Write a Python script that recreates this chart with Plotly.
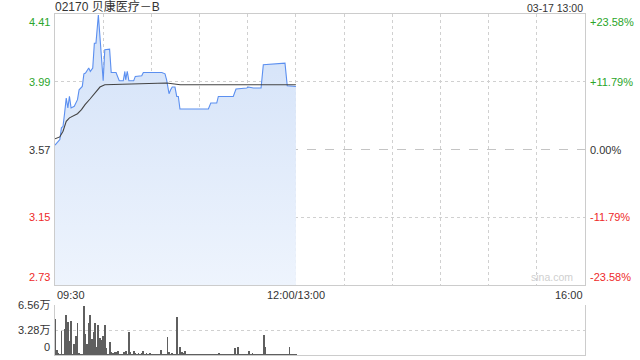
import plotly.graph_objects as go

# ---------------- data ----------------
title_text = "02170 贝康医疗－B"
stamp_text = "03-17 13:00"
prev_close = 3.57
price_ticks = [4.41, 3.99, 3.57, 3.15, 2.73]
pct_ticks = ["+23.58%", "+11.79%", "0.00%", "-11.79%", "-23.58%"]
time_labels = ["09:30", "12:00/13:00", "16:00"]
time_label_pos = [0, 150, 330]          # trading minutes since 09:30 (lunch removed)
vol_ticks = [6.56, 3.28, 0]
vol_tick_labels = ["6.56万", "3.28万", "0"]

price_min = [0, 3, 4, 5, 6, 7, 8, 9, 10, 12, 14, 15, 17, 18, 19, 21, 22, 23.5, 24.5,
             25.5, 27, 28, 29, 30, 31, 34, 35, 38, 40, 42.5, 43.5, 44, 45, 46, 49, 50,
             54, 55, 66.5, 68.5, 69.5, 71, 72, 73, 74.7, 75.8, 76.8, 77.8, 95.5, 97,
             100.7, 101.7, 111, 112.7, 119.4, 120.4, 123.5, 128.3, 129.7, 143.2, 144.6, 150]
price_val = [3.597, 3.632, 3.704, 3.714, 3.798, 3.889, 3.828, 3.899, 3.828, 3.838, 3.879,
             3.940, 3.961, 4.039, 4.044, 4.075, 4.054, 4.075, 4.229, 4.229, 4.404, 4.249,
             4.157, 3.996, 4.188, 4.192, 4.047, 4.047, 3.996, 3.996, 4.054, 4.002, 4.054,
             3.996, 3.996, 4.023, 4.027, 4.047, 4.047, 4.039, 4.002, 3.916, 3.940, 3.957,
             3.957, 3.899, 3.899, 3.821, 3.821, 3.858, 3.858, 3.899, 3.899, 3.945, 3.951,
             3.957, 3.951, 3.951, 4.095, 4.105, 3.965, 3.961]

avg_min = [0, 3, 5, 7, 9, 14, 16.5, 18.7, 21.8, 24.9, 28, 31, 49, 69.5, 78, 150]
avg_val = [3.636, 3.648, 3.683, 3.745, 3.766, 3.792, 3.817, 3.848, 3.883, 3.920, 3.957,
           3.971, 3.978, 3.982, 3.971, 3.971]

# volume per minute, unit 万
volume = [4.72, 0.66, 0.22, 0.10, 3.10, 0.10, 3.41, 5.29, 4.29, 1.79,
          4.50, 0.10, 1.44, 2.54, 4.15, 0.15, 0.10, 0.10, 6.47, 2.76,
          1.44, 4.15, 5.29, 2.10, 2.97, 4.15, 1.00, 3.98, 2.23, 1.97,
          2.54, 3.98, 0.87, 0.13, 1.66, 0.35, 0.22, 0.35, 0.35, 0.48,
          0.05, 0.05, 0.05, 0.35, 0.48, 0.10, 2.97, 0.35, 0.13, 0.48,
          0.22, 0.13, 0.22, 0.10, 0.22, 0.48, 0.05, 0.22, 0.13, 0.22,
          0.05, 0.05, 0.05, 0.13, 0.05, 0.13, 0.66, 0.13, 0.13, 0.13,
          2.40, 0.35, 0.13, 0.22, 0.13, 0.05, 4.94, 0.10, 1.09, 0.35,
          0.22, 0.57, 0.05, 0.05, 0.05, 0.05, 0.05, 0.05, 0.05, 0.05,
          0.05, 0.05, 0.05, 0.05, 0.05, 0.05, 0.05, 0.05, 0.05, 0.05,
          0.05, 0.05, 0.22, 0.05, 0.05, 0.05, 0.05, 0.05, 0.05, 0.05,
          0.05, 0.05, 0.87, 0.05, 1.00, 0.05, 0.05, 0.05, 0.05, 0.05,
          0.10, 0.48, 0.10, 0.22, 0.05, 0.05, 0.05, 0.05, 0.05, 0.05,
          2.67, 1.09, 0.05, 0.05, 0.05, 0.05, 0.05, 0.05, 0.05, 0.05,
          0.05, 0.05, 0.05, 0.05, 0.05, 0.05, 1.00, 0.05, 0.05, 0.05,
          0.05]
vol_min = list(range(len(volume)))

# ---------------- figure ----------------
FONT = "Liberation Sans, Arial, Noto Sans CJK SC, sans-serif"
GREEN = "#2aa52a"
RED = "#ee2a2a"
DARK = "#333333"
GRID = "#d0d0d0"
BORDER = "#cccccc"

fig = go.Figure()

fig.add_trace(go.Scatter(
    x=price_min, y=price_val, mode="lines",
    line=dict(color="#5b8ff0", width=1.1),
    fill="tozeroy",
    fillgradient=dict(type="vertical", start=2.73, stop=4.41,
                      colorscale=[[0, "rgba(238,244,253,1)"], [1, "rgba(210,225,248,1)"]]),
    xaxis="x", yaxis="y", hoverinfo="skip", showlegend=False))

fig.add_trace(go.Scatter(
    x=avg_min, y=avg_val, mode="lines",
    line=dict(color="#444444", width=1.1),
    xaxis="x", yaxis="y", hoverinfo="skip", showlegend=False))

fig.add_trace(go.Bar(
    x=vol_min, y=volume, width=0.5,
    marker=dict(color="#5f5f5f", line=dict(width=0)),
    xaxis="x2", yaxis="y2", hoverinfo="skip", showlegend=False))

# previous-close dashed line
fig.add_shape(type="line", xref="x", yref="y", x0=0, x1=330, y0=prev_close, y1=prev_close,
              line=dict(color="#c4c4c4", width=1, dash="dash"), layer="below")

main_dom = [(355 - 285) / 341, 1.0]
vol_dom = [0.0, (355 - 305) / 341]

fig.update_layout(
    width=640, height=360,
    margin=dict(l=55, r=55, t=14, b=5),
    paper_bgcolor="white", plot_bgcolor="white",
    font=dict(family=FONT, size=11, color=DARK),
    bargap=0,
    xaxis=dict(domain=[0, 1], range=[0, 330], tickvals=[30 * i for i in range(1, 11)],
               showticklabels=False, ticks="", showgrid=True, gridcolor=GRID,
               griddash="dot", gridwidth=1, zeroline=False,
               showline=True, linecolor=BORDER, linewidth=1, mirror=True,
               anchor="y"),
    yaxis=dict(domain=main_dom, range=[2.73, 4.41], tickvals=[3.15, 3.99],
               showticklabels=False, ticks="", showgrid=True, gridcolor=GRID,
               griddash="dot", gridwidth=1, zeroline=False,
               showline=True, linecolor=BORDER, linewidth=1, mirror=True),
    xaxis2=dict(domain=[0, 1], range=[0, 330], showticklabels=False, ticks="",
                showgrid=False, zeroline=False, showline=True, linecolor=BORDER,
                linewidth=1, mirror=False, anchor="y2"),
    yaxis2=dict(domain=vol_dom, range=[0, 6.56], tickvals=[3.28, 6.56],
                showticklabels=False, ticks="", showgrid=True, gridcolor=GRID,
                griddash="dot", gridwidth=1, zeroline=False,
                showline=True, linecolor=BORDER, linewidth=1, mirror=True,
                anchor="x2"),
)

ann = []
# title and stamp
ann.append(dict(text=title_text, xref="paper", yref="paper", x=0, y=1.0,
                xanchor="left", yanchor="bottom", showarrow=False,
                font=dict(size=12, color=DARK), xshift=-2, yshift=-2))
ann.append(dict(text=stamp_text, xref="paper", yref="paper", x=1, y=1.0,
                xanchor="right", yanchor="bottom", showarrow=False,
                font=dict(size=10.5, color=DARK), yshift=-2))

# price / percent labels
price_colors = [GREEN, GREEN, DARK, RED, RED]
for i, (p, pct, c) in enumerate(zip(price_ticks, pct_ticks, price_colors)):
    if i == 0:
        ya = "top"
    elif i == len(price_ticks) - 1:
        ya = "bottom"
    else:
        ya = "middle"
    ann.append(dict(text=f"{p:.2f}", xref="paper", yref="y", x=0, y=p,
                    xanchor="right", yanchor=ya, showarrow=False,
                    font=dict(size=11, color=c), xshift=-3))
    ann.append(dict(text=pct, xref="paper", yref="y", x=1, y=p,
                    xanchor="left", yanchor=ya, showarrow=False,
                    font=dict(size=11, color=c), xshift=3))

# time labels
for lab, pos in zip(time_labels, time_label_pos):
    xa = "left" if pos == 0 else ("right" if pos == 330 else "center")
    ann.append(dict(text=lab, xref="x", yref="paper", x=pos, y=main_dom[0],
                    xanchor=xa, yanchor="top", showarrow=False,
                    font=dict(size=11, color=DARK), yshift=-2))

# volume labels
for v, lab in zip(vol_ticks, vol_tick_labels):
    ya = "bottom" if v == 0 else "middle"
    ann.append(dict(text=lab, xref="paper", yref="y2", x=0, y=v,
                    xanchor="right", yanchor=ya, showarrow=False,
                    font=dict(size=11, color=DARK), xshift=-3))

# watermark
ann.append(dict(text="sina.com", xref="paper", yref="y", x=1, y=2.73,
                xanchor="right", yanchor="bottom", showarrow=False,
                font=dict(size=10.5, color="#cfcfcf"), xshift=-10, yshift=0))

fig.update_layout(annotations=ann)

fig.write_html("out.html")
